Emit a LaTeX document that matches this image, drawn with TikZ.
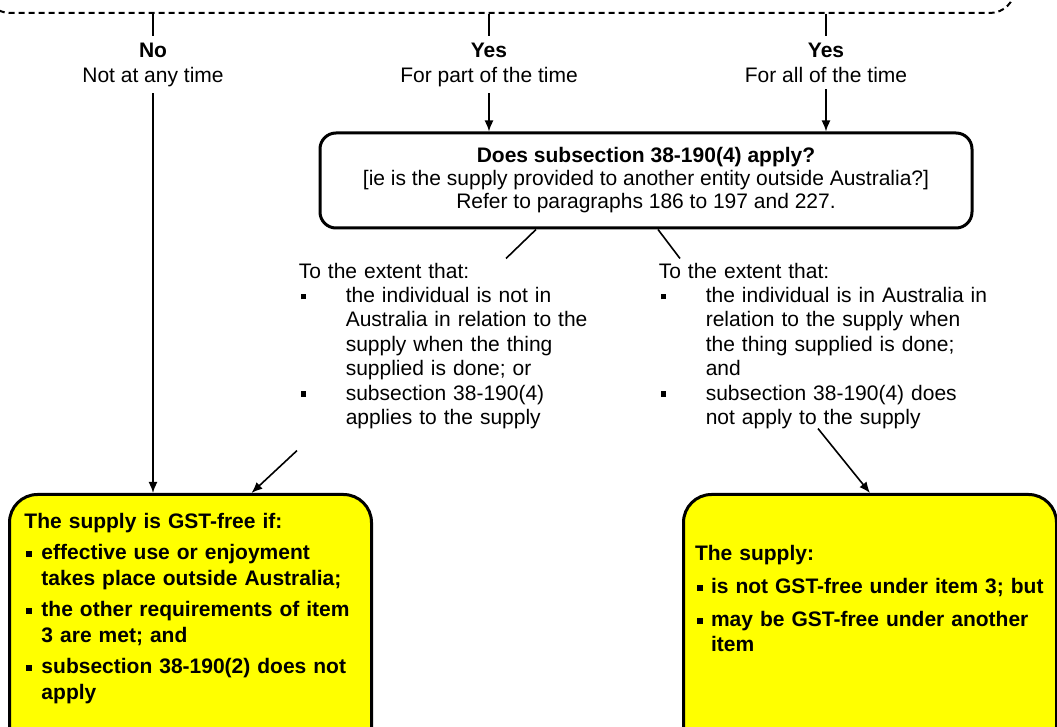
\documentclass[tikz,border=0pt]{standalone}
\usepackage{fontspec}
\setmainfont{Liberation Sans}
\usetikzlibrary{arrows.meta, positioning, calc}

\definecolor{gstyellow}{RGB}{255,255,0}

% square bullet with hanging indent
\newcommand{\sqitem}[1]{\par\hangindent=#1\hangafter=1\noindent\makebox[#1][l]{\hspace{1pt}\rule[0.15em]{2.8pt}{2.8pt}}}

\begin{document}
\begin{tikzpicture}[x=0.5pt, y=-0.5pt, >={Latex[length=5.5pt, width=4.5pt]}, line width=0.8pt,
    font=\fontsize{10.5pt}{12.2pt}\selectfont,
    answer/.style={align=center, inner sep=3pt, font=\fontsize{10.5pt}{12.5pt}\selectfont},
    cond/.style={align=left, inner sep=0pt, text width=175pt},
    result/.style={draw, line width=1.5pt, fill=gstyellow, rounded corners=14pt, align=left,
        font=\bfseries\fontsize{10.5pt}{13pt}\selectfont}]

\useasboundingbox (0,0) rectangle (1057,727);
\clip (0,0) rectangle (1057,727);

\node[draw, dash pattern=on 3pt off 2pt, line width=1pt, rounded corners=12.5pt,
    minimum width=515pt, minimum height=81.5pt] (prev) at (500,-68.5) {};

\node[answer, anchor=north] (never) at (153,36) {\textbf{No}\\Not at any time};
\node[answer, right=168pt of never.north, anchor=north] (part) {\textbf{Yes}\\For part of the time};
\node[answer, right=168.5pt of part.north, anchor=north] (always) {\textbf{Yes}\\For all of the time};

\node[draw, line width=1.5pt, rounded corners=8pt, minimum width=326pt, minimum height=47.5pt,
    align=center, font=\fontsize{10.5pt}{11.5pt}\selectfont] (query) at (646,180.5)
    {\textbf{Does subsection 38-190(4) apply?}\\{[}ie is the supply provided to another entity outside Australia?{]}\\Refer to paragraphs 186 to 197 and 227.};

\node[cond, anchor=north west] (outside) at (298,262) {To the extent that:
    \sqitem{23.5pt}the individual is not in\newline Australia in relation to the\newline supply when the thing\newline supplied is done; or
    \sqitem{23.5pt}subsection 38-190(4)\newline applies to the supply\par};
\node[cond, right=180pt of outside.north west, anchor=north west] (inside) {To the extent that:
    \sqitem{23.5pt}the individual is in Australia in\newline relation to the supply when\newline the thing supplied is done;\newline and
    \sqitem{23.5pt}subsection 38-190(4) does\newline not apply to the supply\par};

\node[result, anchor=north west, text width=166pt, inner xsep=7.5pt, inner ysep=9.5pt] (gstfree) at (8,493)
    {The supply is GST-free if:\par\vspace{2.5pt}
    \sqitem{8.5pt}effective use or enjoyment\newline takes place outside Australia;\par\vspace{2.5pt}
    \sqitem{8.5pt}the other requirements of item\newline 3 are met; and\par\vspace{2.5pt}
    \sqitem{8.5pt}subsection 38-190(2) does not\newline apply\par\vspace*{20pt}\mbox{}};
\node[result, anchor=north west, text width=175pt, inner xsep=5.75pt, inner ysep=25.5pt,
    font=\bfseries\fontsize{10.5pt}{12.5pt}\selectfont] (notfree) at (682,493)
    {The supply:\par\vspace{4pt}
    \sqitem{8pt}is not GST-free under item 3; but\par\vspace{4pt}
    \sqitem{8pt}may be GST-free under another\newline item\par\vspace*{20pt}\mbox{}};

\draw (prev.south -| never.north) -- (never.north);
\draw (prev.south -| part.north) -- (part.north);
\draw (prev.south -| always.north) -- (always.north);

\draw[->] (never.south) -- (never.south |- gstfree.north);
\draw[->] (part.south) -- (part.south |- query.north);
\draw[->] (always.south) -- (always.south |- query.north);

\draw (query.south) ++(-110,0) -- ++(-30,29);
\draw (query.south) ++(12,0) -- ++(22,29);

\draw[->] (outside.south west) ++(-1,21) -- ($(gstfree.north)+(61,0)$);
\draw[->] (inside.south west) ++(160,-1) -- (notfree.north);

\end{tikzpicture}
\end{document}
